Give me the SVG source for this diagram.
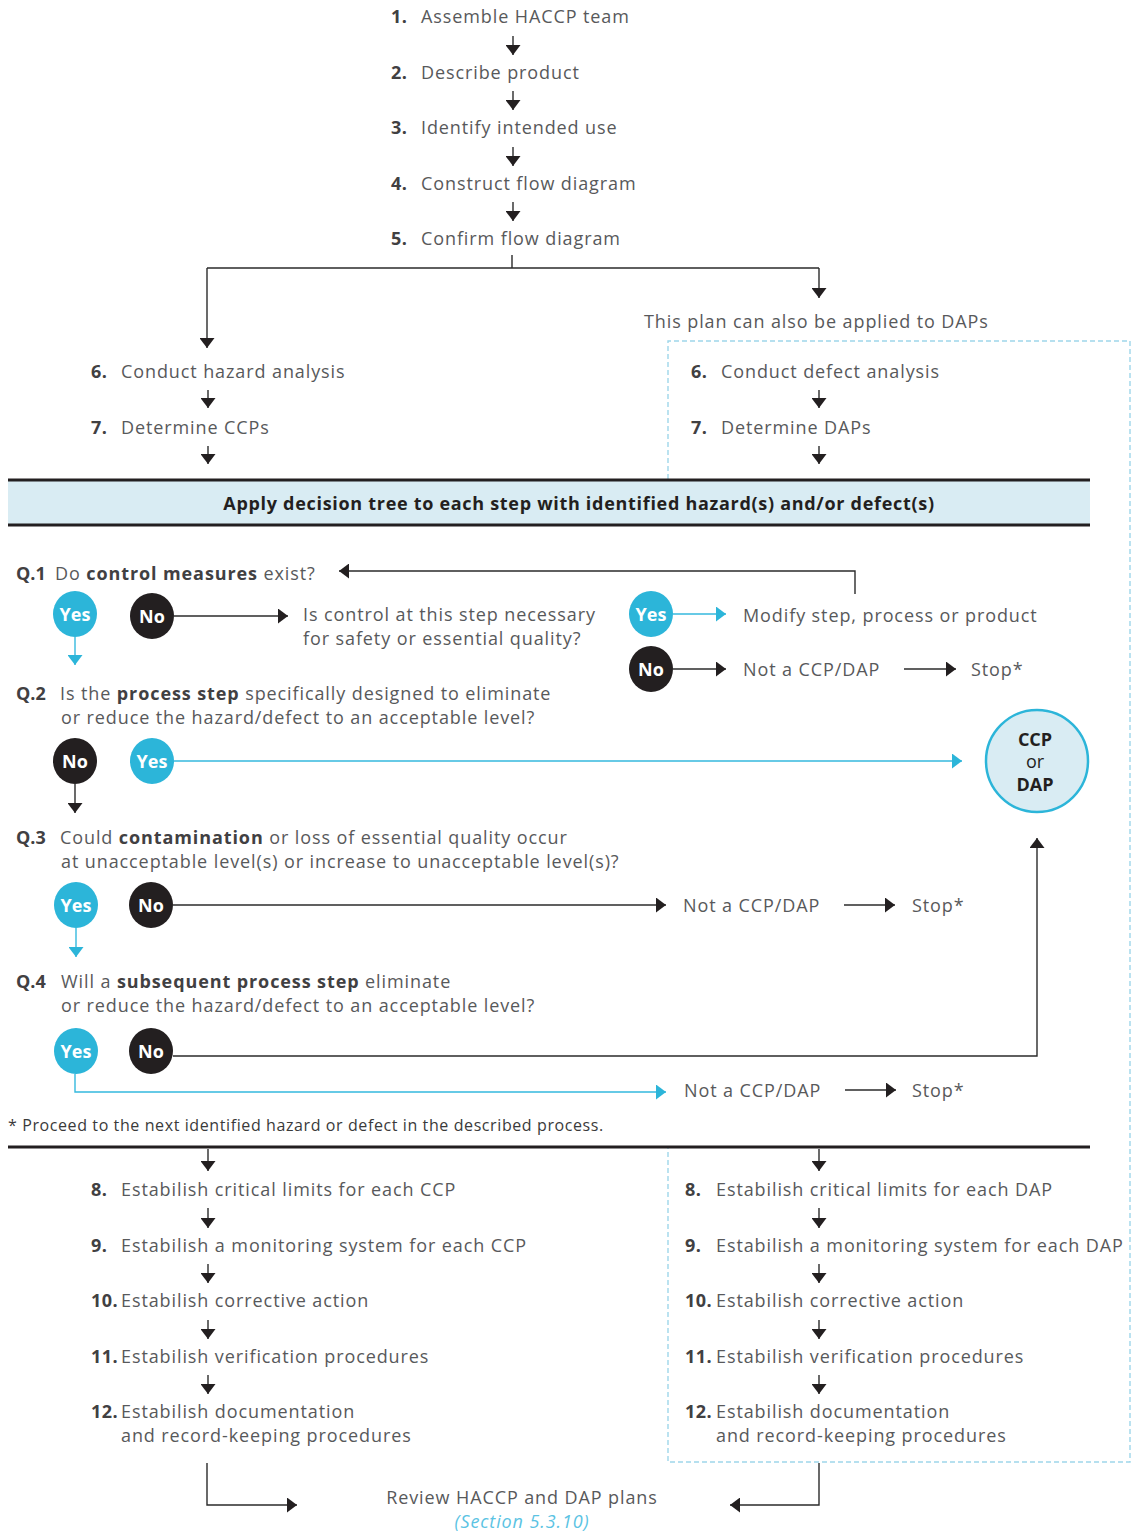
<svg xmlns="http://www.w3.org/2000/svg" width="1136" height="1533" viewBox="0 0 1136 1533">
<defs>
<style>
text{font-family:"Open Sans","Liberation Sans",sans-serif;}
.t{font-size:18px;fill:#58595b;letter-spacing:0.9px;}
.n{font-size:18px;fill:#414042;font-weight:bold;letter-spacing:0.5px;}
.b{font-weight:bold;fill:#414042;}
.c{font-size:18px;fill:#fff;font-weight:bold;text-anchor:middle;}
.ln{fill:none;stroke:#2b2b2b;stroke-width:1.4;}
.lc{fill:none;stroke:#35b9de;stroke-width:1.4;}
.bar{stroke:#231f20;stroke-width:3;}
.dash{fill:none;stroke:#9ed6ea;stroke-width:1.4;stroke-dasharray:5 3;}
.yes{fill:#2cb5d9;}
.no{fill:#231f20;}
</style>
<marker id="ah" viewBox="0 0 10 15" refX="10" refY="7.5" markerWidth="10" markerHeight="15" markerUnits="userSpaceOnUse" orient="auto"><path d="M0 0L10 7.5L0 15Z" fill="#231f20"/></marker>
<marker id="ahc" viewBox="0 0 10 15" refX="10" refY="7.5" markerWidth="10" markerHeight="15" markerUnits="userSpaceOnUse" orient="auto"><path d="M0 0L10 7.5L0 15Z" fill="#2cb5d9"/></marker>
</defs>
<rect width="1136" height="1533" fill="#fff"/>

<g id="dap-box">
<path class="dash" d="M668 479V341H1130V1462H668V1148"/>
</g>

<g id="step1"><text class="n" x="391" y="23">1.</text><text class="t" x="421" y="23">Assemble HACCP team</text></g>
<g id="step2"><text class="n" x="391" y="79">2.</text><text class="t" x="421" y="79">Describe product</text></g>
<g id="step3"><text class="n" x="391" y="134">3.</text><text class="t" x="421" y="134">Identify intended use</text></g>
<g id="step4"><text class="n" x="391" y="190">4.</text><text class="t" x="421" y="190">Construct flow diagram</text></g>
<g id="step5"><text class="n" x="391" y="245">5.</text><text class="t" x="421" y="245">Confirm flow diagram</text></g>
<g id="dap-note"><text class="t" x="644" y="328">This plan can also be applied to DAPs</text></g>

<g id="haz6"><text class="n" x="91" y="378">6.</text><text class="t" x="121" y="378">Conduct hazard analysis</text></g>
<g id="haz7"><text class="n" x="91" y="434">7.</text><text class="t" x="121" y="434">Determine CCPs</text></g>
<g id="def6"><text class="n" x="691" y="378">6.</text><text class="t" x="721" y="378">Conduct defect analysis</text></g>
<g id="def7"><text class="n" x="691" y="434">7.</text><text class="t" x="721" y="434">Determine DAPs</text></g>

<g id="header">
<rect x="8" y="480" width="1082" height="45" fill="#d9ecf3"/>
<line class="bar" x1="8" y1="480" x2="1090" y2="480"/>
<line class="bar" x1="8" y1="525" x2="1090" y2="525"/>
<text x="579" y="510" font-size="18" font-weight="bold" fill="#231f20" text-anchor="middle" letter-spacing="0.7">Apply decision tree to each step with identified hazard(s) and/or defect(s)</text>
</g>

<g id="q1"><text class="t" x="16" y="580"><tspan class="b" letter-spacing="0">Q.1</tspan><tspan x="55">Do </tspan><tspan class="b">control measures</tspan> exist?</text></g>
<g id="q1-yes"><ellipse class="yes" cx="75" cy="614" rx="22" ry="23"/><text class="c" x="75" y="621">Yes</text></g>
<g id="q1-no"><ellipse class="no" cx="152" cy="616" rx="22" ry="23"/><text class="c" x="152" y="623">No</text></g>
<g id="q1b"><text class="t" x="303" y="621">Is control at this step necessary</text><text class="t" x="303" y="645">for safety or essential quality?</text></g>
<g id="q1b-yes"><ellipse class="yes" cx="651" cy="614" rx="22" ry="23"/><text class="c" x="651" y="621">Yes</text></g>
<g id="modify"><text class="t" x="743" y="622">Modify step, process or product</text></g>
<g id="q1b-no"><ellipse class="no" cx="651" cy="669" rx="22" ry="23"/><text class="c" x="651" y="676">No</text></g>
<g id="notccp1"><text class="t" x="743" y="676">Not a CCP/DAP</text></g>
<g id="stop1"><text class="t" x="971" y="676">Stop*</text></g>

<g id="q2"><text class="t" x="16" y="700"><tspan class="b" letter-spacing="0">Q.2</tspan><tspan x="60">Is the </tspan><tspan class="b">process step</tspan> specifically designed to eliminate</text><text class="t" x="61" y="724">or reduce the hazard/defect to an acceptable level?</text></g>
<g id="q2-no"><ellipse class="no" cx="75" cy="761" rx="22" ry="23"/><text class="c" x="75" y="768">No</text></g>
<g id="q2-yes"><ellipse class="yes" cx="152" cy="761" rx="22" ry="23"/><text class="c" x="152" y="768">Yes</text></g>

<g id="ccp">
<circle cx="1037" cy="761" r="51" fill="#d9ecf3" stroke="#2cb5d9" stroke-width="2.5"/>
<text x="1035" y="746" font-size="18" font-weight="bold" fill="#231f20" text-anchor="middle">CCP</text>
<text x="1035" y="768" font-size="18" fill="#231f20" text-anchor="middle">or</text>
<text x="1035" y="791" font-size="18" font-weight="bold" fill="#231f20" text-anchor="middle">DAP</text>
</g>

<g id="q3"><text class="t" x="16" y="844"><tspan class="b" letter-spacing="0">Q.3</tspan><tspan x="60">Could </tspan><tspan class="b">contamination</tspan> or loss of essential quality occur</text><text class="t" x="61" y="868">at unacceptable level(s) or increase to unacceptable level(s)?</text></g>
<g id="q3-yes"><ellipse class="yes" cx="76" cy="905" rx="22" ry="23"/><text class="c" x="76" y="912">Yes</text></g>
<g id="q3-no"><ellipse class="no" cx="151" cy="905" rx="22" ry="23"/><text class="c" x="151" y="912">No</text></g>
<g id="notccp2"><text class="t" x="683" y="912">Not a CCP/DAP</text></g>
<g id="stop2"><text class="t" x="912" y="912">Stop*</text></g>

<g id="q4"><text class="t" x="16" y="988"><tspan class="b" letter-spacing="0">Q.4</tspan><tspan x="61">Will a </tspan><tspan class="b">subsequent process step</tspan> eliminate</text><text class="t" x="61" y="1012">or reduce the hazard/defect to an acceptable level?</text></g>
<g id="q4-yes"><ellipse class="yes" cx="76" cy="1051" rx="22" ry="23"/><text class="c" x="76" y="1058">Yes</text></g>
<g id="q4-no"><ellipse class="no" cx="151" cy="1051" rx="22" ry="23"/><text class="c" x="151" y="1058">No</text></g>
<g id="notccp3"><text class="t" x="684" y="1097">Not a CCP/DAP</text></g>
<g id="stop3"><text class="t" x="912" y="1097">Stop*</text></g>

<g id="footnote"><text x="8" y="1131" font-size="16" fill="#3a3a3a" letter-spacing="0.6">* Proceed to the next identified hazard or defect in the described process.</text></g>
<g id="bottom-bar"><line class="bar" x1="8" y1="1147" x2="1090" y2="1147"/></g>

<g id="haz8"><text class="n" x="91" y="1196">8.</text><text class="t" x="121" y="1196">Estabilish critical limits for each CCP</text></g>
<g id="haz9"><text class="n" x="91" y="1252">9.</text><text class="t" x="121" y="1252">Estabilish a monitoring system for each CCP</text></g>
<g id="haz10"><text class="n" x="91" y="1307">10.</text><text class="t" x="121" y="1307">Estabilish corrective action</text></g>
<g id="haz11"><text class="n" x="91" y="1363">11.</text><text class="t" x="121" y="1363">Estabilish verification procedures</text></g>
<g id="haz12"><text class="n" x="91" y="1418">12.</text><text class="t" x="121" y="1418">Estabilish documentation</text><text class="t" x="121" y="1442">and record-keeping procedures</text></g>

<g id="def8"><text class="n" x="685" y="1196">8.</text><text class="t" x="716" y="1196">Estabilish critical limits for each DAP</text></g>
<g id="def9"><text class="n" x="685" y="1252">9.</text><text class="t" x="716" y="1252">Estabilish a monitoring system for each DAP</text></g>
<g id="def10"><text class="n" x="685" y="1307">10.</text><text class="t" x="716" y="1307">Estabilish corrective action</text></g>
<g id="def11"><text class="n" x="685" y="1363">11.</text><text class="t" x="716" y="1363">Estabilish verification procedures</text></g>
<g id="def12"><text class="n" x="685" y="1418">12.</text><text class="t" x="716" y="1418">Estabilish documentation</text><text class="t" x="716" y="1442">and record-keeping procedures</text></g>

<g id="review"><text class="t" x="522" y="1504" text-anchor="middle">Review HACCP and DAP plans</text><text class="t" x="522" y="1528" text-anchor="middle" font-style="italic" style="fill:#5bc3e3">(Section 5.3.10)</text></g>

<g id="connectors">
<path class="ln" marker-end="url(#ah)" d="M513 36V55"/>
<path class="ln" marker-end="url(#ah)" d="M513 91V110"/>
<path class="ln" marker-end="url(#ah)" d="M513 147V166"/>
<path class="ln" marker-end="url(#ah)" d="M513 202V221"/>
<path class="ln" d="M512 255V268M207 268H819"/>
<path class="ln" marker-end="url(#ah)" d="M207 268V348"/>
<path class="ln" marker-end="url(#ah)" d="M819 268V298"/>
<path class="ln" marker-end="url(#ah)" d="M208 390V408"/>
<path class="ln" marker-end="url(#ah)" d="M208 446V464"/>
<path class="ln" marker-end="url(#ah)" d="M819 390V408"/>
<path class="ln" marker-end="url(#ah)" d="M819 446V464"/>

<path class="ln" marker-end="url(#ah)" d="M855 594V571H339"/>
<path class="ln" marker-end="url(#ah)" d="M174 616H288"/>
<path class="lc" marker-end="url(#ahc)" d="M75 637V665"/>
<path class="lc" marker-end="url(#ahc)" d="M673 614H726"/>
<path class="ln" marker-end="url(#ah)" d="M673 669H726"/>
<path class="ln" marker-end="url(#ah)" d="M904 669H956"/>

<path class="ln" marker-end="url(#ah)" d="M75 784V813"/>
<path class="lc" marker-end="url(#ahc)" d="M174 761H962"/>

<path class="ln" marker-end="url(#ah)" d="M173 905H666"/>
<path class="ln" marker-end="url(#ah)" d="M844 905H895"/>
<path class="lc" marker-end="url(#ahc)" d="M76 928V957"/>

<path class="ln" marker-end="url(#ah)" d="M173 1056H1037V838"/>
<path class="lc" marker-end="url(#ahc)" d="M75 1074V1092H666"/>
<path class="ln" marker-end="url(#ah)" d="M845 1090H896"/>

<path class="ln" marker-end="url(#ah)" d="M208 1149V1171"/>
<path class="ln" marker-end="url(#ah)" d="M819 1149V1171"/>
<path class="ln" marker-end="url(#ah)" d="M208 1208V1228"/>
<path class="ln" marker-end="url(#ah)" d="M208 1264V1283"/>
<path class="ln" marker-end="url(#ah)" d="M208 1320V1339"/>
<path class="ln" marker-end="url(#ah)" d="M208 1375V1394"/>
<path class="ln" marker-end="url(#ah)" d="M819 1208V1228"/>
<path class="ln" marker-end="url(#ah)" d="M819 1264V1283"/>
<path class="ln" marker-end="url(#ah)" d="M819 1320V1339"/>
<path class="ln" marker-end="url(#ah)" d="M819 1375V1394"/>
<path class="ln" marker-end="url(#ah)" d="M207 1463V1505H297"/>
<path class="ln" marker-end="url(#ah)" d="M819 1463V1505H730"/>
</g>
</svg>
